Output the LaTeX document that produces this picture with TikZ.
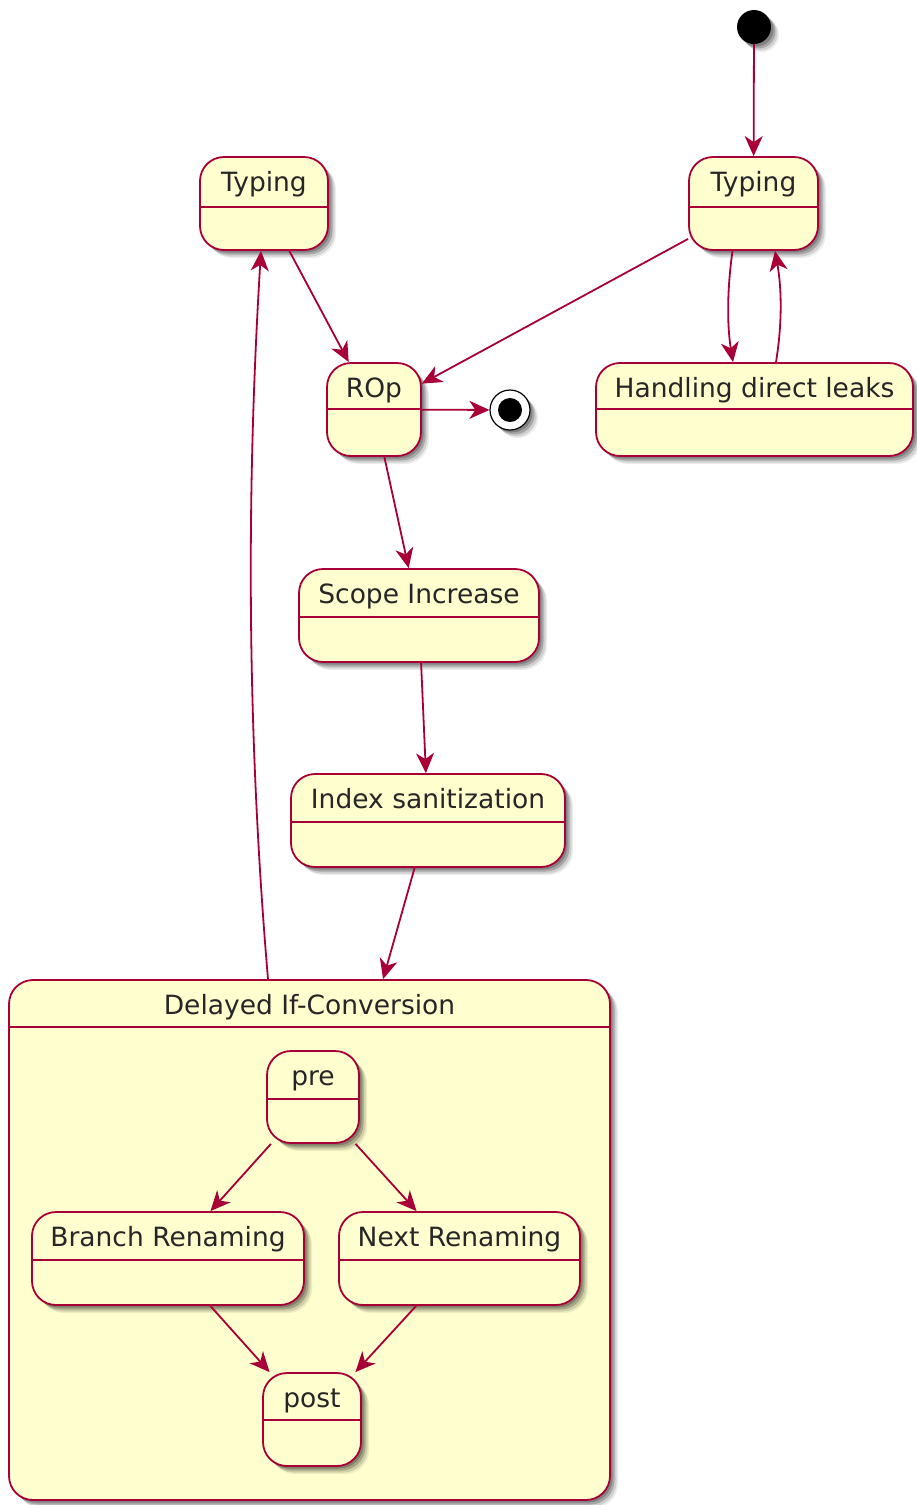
\documentclass[tikz,border=0pt]{standalone}
\usepackage{fontspec}
\setmainfont{DejaVu Sans}
\usetikzlibrary{arrows.meta,shadows}
\definecolor{stfill}{HTML}{FEFECE}
\definecolor{stline}{HTML}{A80036}
\tikzset{
  x=1pt,y=-1pt,
  shd/.style={
    general shadow={shadow xshift=2.5pt,shadow yshift=-2.5pt,fill=black,opacity=0.22},
    general shadow={shadow xshift=4.5pt,shadow yshift=-4.5pt,fill=black,opacity=0.2},
    general shadow={shadow xshift=6.5pt,shadow yshift=-6.5pt,fill=black,opacity=0.12},
    general shadow={shadow xshift=8pt,shadow yshift=-8pt,fill=black,opacity=0.07}},
  stbox/.style={draw=stline,fill=stfill,line width=1.8pt,rounded corners=24pt,
    inner sep=0pt,shd},
  sep/.style={draw=stline,line width=1.5pt},
  sttext/.style={anchor=base,inner sep=0pt,text=black!85,font=\fontsize{26.5}{30}\selectfont},
  edge/.style={draw=stline,line width=1.8pt,-{Stealth[length=20pt,width=18pt,inset=6pt]}},
}
\newcommand\stbox[7]{%
  \node[stbox,minimum width={#4-#2},minimum height={#5-#3}] (#1) at ({(#2+#4)/2},{(#3+#5)/2}) {};
  \draw[sep] (#2,#6) -- (#4,#6);
  \node[sttext] at ({(#2+#4)/2},{#3+34}) {#7};}
\begin{document}
\begin{tikzpicture}
\useasboundingbox (0,0) rectangle (916,1505);
% start / end
\node[circle,fill=black,minimum size=34pt,inner sep=0pt,shd] (s) at (754,27) {};
\node[circle,draw=black,fill=white,line width=1.2pt,minimum size=40pt,inner sep=0pt,shd] (e) at (510,410) {};
\fill[black] (e.center) circle (12pt);
% states
\stbox{t2}{689}{157}{818}{250}{207}{Typing}
\stbox{t1}{200}{157}{328}{250}{207}{Typing}
\stbox{rop}{327}{363}{421}{456}{409}{ROp}
\stbox{hdl}{596}{363}{913}{456}{409}{Handling direct leaks}
\stbox{sc}{299}{569}{539}{662}{617}{Scope Increase}
\stbox{ix}{291}{774}{565}{867}{822}{Index sanitization}
\stbox{dl}{9}{980}{610}{1500}{1027}{Delayed If-Conversion}
\stbox{pre}{267}{1051}{359}{1143}{1099}{pre}
\stbox{br}{32}{1212}{304}{1305}{1260}{Branch Renaming}
\stbox{nx}{339}{1212}{580}{1305}{1260}{Next Renaming}
\stbox{post}{263}{1373}{361}{1466}{1420}{post}
% edges
\draw[edge] (s) -- (t2);
\draw[edge] (t2) -- (rop);
\draw[edge] ([xshift=-21pt]t2.south) .. controls (727,290) and (727,325) .. ([xshift=-21.5pt]hdl.north);
\draw[edge] ([xshift=21.5pt]hdl.north) .. controls (782,325) and (782,290) .. ([xshift=21.5pt]t2.south);
\draw[edge] (t1) -- (rop);
\draw[edge] (rop) -- (e);
\draw[edge] (rop) -- (sc);
\draw[edge] (sc) -- (ix);
\draw[edge] (ix) -- (dl);
\draw[edge] ([xshift=-41.5pt]dl.north) .. controls (246,720) and (247,480) .. ([xshift=-3pt]t1.south);
\draw[edge] (pre) -- (br);
\draw[edge] (pre) -- (nx);
\draw[edge] (br) -- (post);
\draw[edge] (nx) -- (post);
\end{tikzpicture}
\end{document}
